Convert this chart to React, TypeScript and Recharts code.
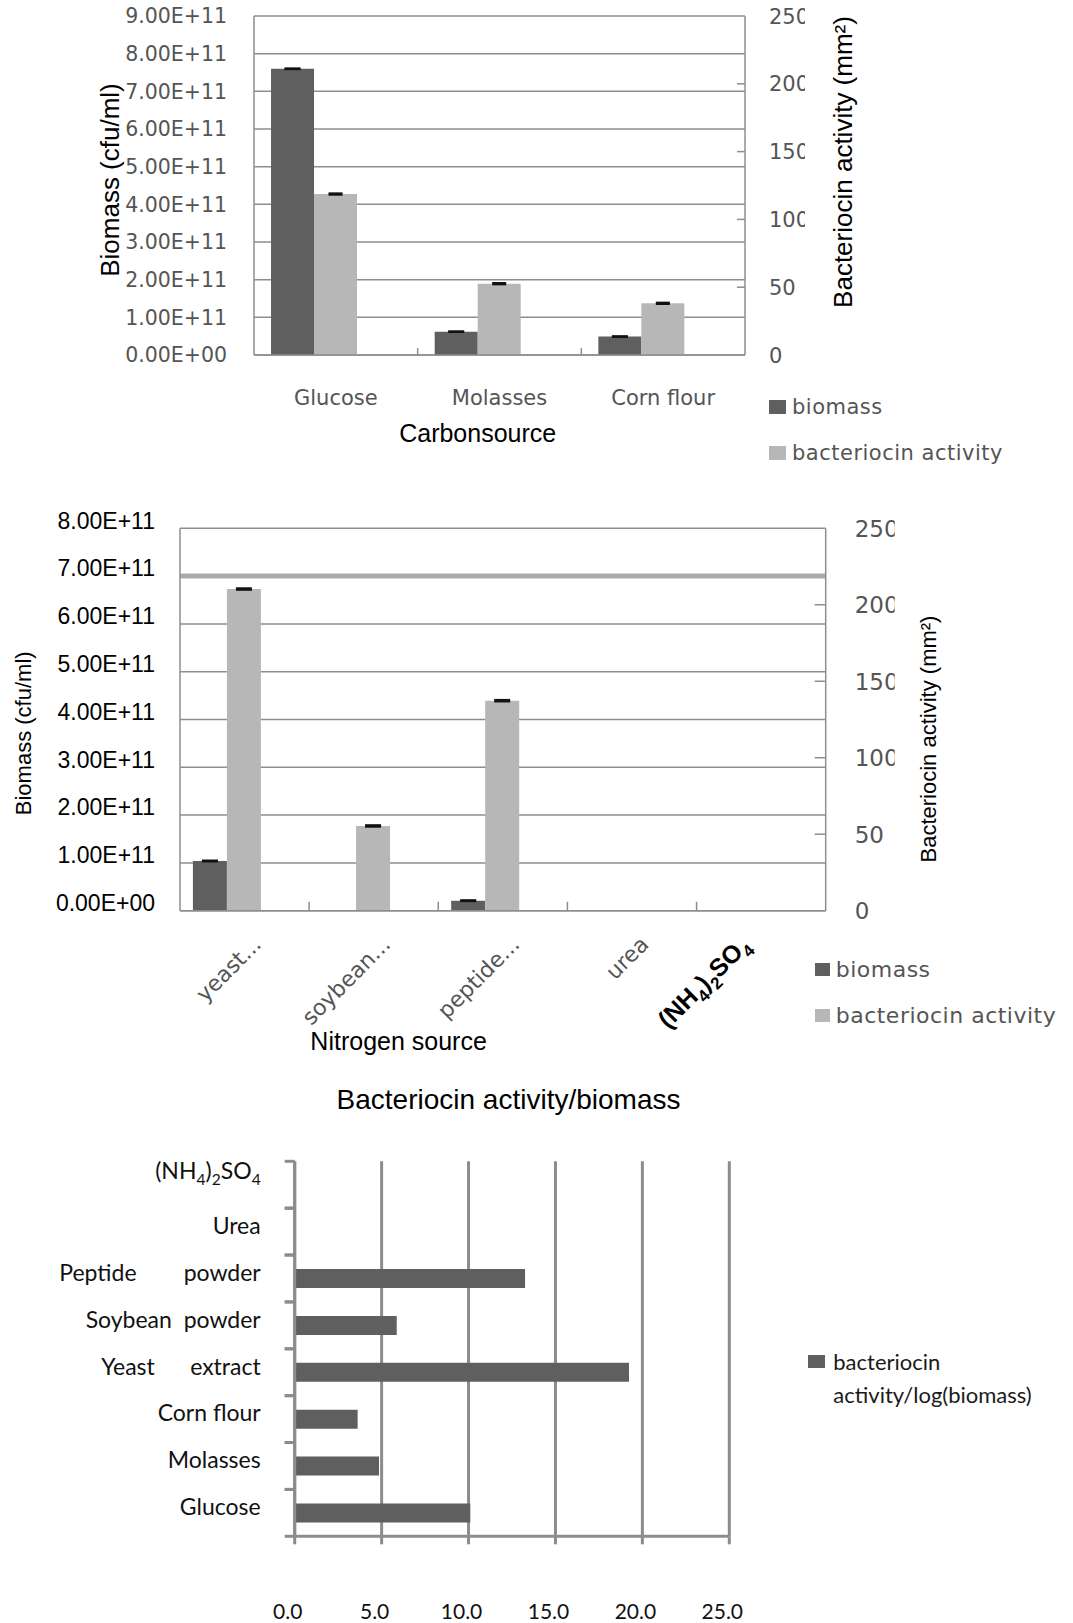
import React from 'react';
import { BarChart, Bar, XAxis, YAxis, CartesianGrid, ErrorBar, Legend, ReferenceLine } from 'recharts';

// carbon sources (top chart)
const carbonSources = ['Glucose', 'Molasses', 'Corn flour'];
const carbonBiomass = [7.6e11, 0.62e11, 0.49e11];
const carbonBiomassErr = [0.01e11, 0.01e11, 0.01e11];
const carbonActivity = [118.7, 52.6, 38.1];
const carbonActivityErr = [0.5, 0.5, 0.5];

// nitrogen sources (middle chart)
const nitrogenSources = ['yeast...', 'soybean...', 'peptide...', 'urea', '(NH4)2SO4'];
const nitrogenBiomass = [1.04e11, 0, 0.21e11, 0, 0];
const nitrogenBiomassErr = [0.01e11, null, 0.01e11, null, null];
const nitrogenActivity = [210.3, 55.4, 137.3, 0, 0];
const nitrogenActivityErr = [0.5, 0.5, 0.5, null, null];

// bacteriocin activity / log(biomass) (bottom chart)
const allSources = [
  'Glucose',
  'Molasses',
  'Corn flour',
  'Yeast      extract',
  'Soybean  powder',
  'Peptide        powder',
  'Urea',
  '(NH4)2SO4',
];
const activityPerBiomass = [10.1, 4.85, 3.62, 19.23, 5.87, 13.25, 0, 0];

const biomassTicksCarbon = [0, 1e11, 2e11, 3e11, 4e11, 5e11, 6e11, 7e11, 8e11, 9e11];
const biomassTicksNitrogen = [0, 1e11, 2e11, 3e11, 4e11, 5e11, 6e11, 7e11, 8e11];
const activityTicks = [0, 50, 100, 150, 200, 250];
const ratioTicks = [0, 5, 10, 15, 20, 25];

const DARK = '#5f5f5f';
const LIGHT = '#b7b7b7';
const GRID = '#8e8e8e';
const GRID3 = '#8c8c8c';
const TICK_GRAY = '#555';
const SEGOE = '"DejaVu Sans", sans-serif';
const ARIAL = '"Liberation Sans", Arial, sans-serif';
const LATO = 'Lato, sans-serif';

const W = 1073;
const C1_H = 480;
const C1_LEFT = 254;
const C1_RIGHT = 328;
const C1_BAND = (W - C1_LEFT - C1_RIGHT) / carbonSources.length;
const C2_H = 590;
const C2_LEFT = 180;
const C2_RIGHT = 247.3;
const C2_BAND = (W - C2_LEFT - C2_RIGHT) / nitrogenSources.length;
const C3_H = 553;
const C3_TOP = 91.3;
const C3_XH = 86.7;
const C3_BAND = (C3_H - C3_TOP - C3_XH) / allSources.length;

const carbonData = carbonSources.map((name, i) => ({
  name,
  biomass: carbonBiomass[i],
  biomassErr: carbonBiomassErr[i],
  activity: carbonActivity[i],
  activityErr: carbonActivityErr[i],
}));

const nitrogenData = nitrogenSources.map((name, i) => ({
  name,
  biomass: nitrogenBiomass[i],
  biomassErr: nitrogenBiomassErr[i],
  activity: nitrogenActivity[i],
  activityErr: nitrogenActivityErr[i],
}));

const ratioData = allSources.map((name, i) => ({ name, value: activityPerBiomass[i] }));

function sci(v: number) {
  if (v === 0) return '0.00E+00';
  const exp = Math.floor(Math.log10(v) + 1e-9);
  const mant = v / Math.pow(10, exp);
  return `${mant.toFixed(2)}E+${String(exp).padStart(2, '0')}`;
}

// digits in a formula become subscripts
function chemParts(label: string, fontSize: number) {
  const parts = label.split(/(\d+)/).filter((p) => p !== '');
  const shift = fontSize * 0.28;
  let down = false;
  return parts.map((p, i) => {
    const isSub = /^\d+$/.test(p);
    let dy = 0;
    if (isSub && !down) {
      dy = shift;
      down = true;
    } else if (!isSub && down) {
      dy = -shift;
      down = false;
    }
    return (
      <tspan key={i} dy={dy} fontSize={isSub ? fontSize * 0.68 : fontSize}>
        {p}
      </tspan>
    );
  });
}

function ValueTick(props: any) {
  const { x, y, payload, font, size, color, shift = 0, fmt } = props;
  return (
    <text x={x} y={y + shift} dy="0.36em" textAnchor="end" fontFamily={font} fontSize={size} fill={color}>
      {fmt ? fmt(payload.value) : payload.value}
    </text>
  );
}

function ActivityTick(props: any) {
  const { x, y, payload, gap, tickLen, size, clipX, id } = props;
  const axisX = x - gap;
  const cid = `${id}-${payload.value}`;
  const inner = payload.value > 0 && payload.value < 250;
  return (
    <g>
      <defs>
        <clipPath id={cid}>
          <rect x={0} y={y - 30} width={clipX} height={60} />
        </clipPath>
      </defs>
      {inner && <line x1={axisX - tickLen} x2={axisX} y1={y} y2={y} stroke={GRID} strokeWidth={1.5} />}
      <text
        x={x}
        y={y}
        dy="0.36em"
        textAnchor="start"
        fontFamily={SEGOE}
        fontSize={size}
        fill={TICK_GRAY}
        clipPath={`url(#${cid})`}
      >
        {payload.value}
      </text>
    </g>
  );
}

function CarbonTick(props: any) {
  const { x, y, payload, index } = props;
  const left = x - C1_BAND / 2;
  return (
    <g>
      {index > 0 && <line x1={left} x2={left} y1={y} y2={y - 7} stroke={GRID} strokeWidth={1.5} />}
      <text x={x} y={y + 42} dy="0.36em" textAnchor="middle" fontFamily={SEGOE} fontSize={21} fill={TICK_GRAY}>
        {payload.value}
      </text>
    </g>
  );
}

function NitrogenTick(props: any) {
  const { x, y, payload, index } = props;
  const left = x - C2_BAND / 2;
  const formula = /\d/.test(payload.value);
  // the formula label sits a little left of the others in the original
  const ax = formula ? x - 10 : x + 18;
  const ay = formula ? y + 36 : y + 35;
  const size = formula ? 25 : 22;
  return (
    <g>
      {index > 0 && <line x1={left} x2={left} y1={y} y2={y - 9} stroke={GRID} strokeWidth={1.5} />}
      <text
        x={ax}
        y={ay}
        textAnchor="end"
        transform={`rotate(-45 ${ax} ${ay})`}
        fontFamily={formula ? ARIAL : SEGOE}
        fontWeight={formula ? 700 : 400}
        fontSize={size}
        fill={formula ? '#000' : TICK_GRAY}
      >
        {formula ? chemParts(payload.value, size) : payload.value}
      </text>
    </g>
  );
}

function RatioCategoryTick(props: any) {
  const { x, y, payload } = props;
  const label = payload.value as string;
  return (
    <g>
      <line x1={x - 10} x2={x} y1={y - C3_BAND / 2} y2={y - C3_BAND / 2} stroke={GRID3} strokeWidth={3} />
      <line x1={x - 10} x2={x} y1={y + C3_BAND / 2} y2={y + C3_BAND / 2} stroke={GRID3} strokeWidth={3} />
      <text
        x={x - 34}
        y={y - 6}
        dy="0.36em"
        textAnchor="end"
        fontFamily={LATO}
        fontSize={23}
        fill="#111"
        xmlSpace="preserve"
        style={{ whiteSpace: 'pre' }}
      >
        {/\d/.test(label) ? chemParts(label, 23) : label}
      </text>
    </g>
  );
}

function RatioValueTick(props: any) {
  const { x, y, payload } = props;
  return (
    <text x={x - 7} y={y} dy="0.36em" textAnchor="middle" fontFamily={LATO} fontSize={21} fill="#111">
      {Number(payload.value).toFixed(1)}
    </text>
  );
}

function rotatedTitle(text: string, cx: number, cy: number, size: number) {
  return () => (
    <text
      x={cx}
      y={cy}
      transform={`rotate(-90 ${cx} ${cy})`}
      textAnchor="middle"
      dominantBaseline="central"
      fontFamily={ARIAL}
      fontSize={size}
      fill="#000"
    >
      {text}
    </text>
  );
}

function flatTitle(text: string, cx: number, cy: number, size: number) {
  return () => (
    <text x={cx} y={cy} textAnchor="middle" dominantBaseline="central" fontFamily={ARIAL} fontSize={size} fill="#000">
      {text}
    </text>
  );
}

function twoSeriesLegend(size: number, rowH: number, square: { w: number; h: number }) {
  const rows = [
    { label: 'biomass', color: DARK },
    { label: 'bacteriocin activity', color: LIGHT },
  ];
  return () => (
    <div style={{ fontFamily: SEGOE, fontSize: size, color: TICK_GRAY, whiteSpace: 'nowrap' }}>
      {rows.map((r) => (
        <div key={r.label} style={{ height: rowH, display: 'flex', alignItems: 'center' }}>
          <span style={{ display: 'inline-block', width: square.w, height: square.h, background: r.color, marginRight: 6 }} />
          <span style={{ letterSpacing: 0.5 }}>{r.label}</span>
        </div>
      ))}
    </div>
  );
}

function CarbonChart() {
  return (
    <BarChart
      width={W}
      height={C1_H}
      data={carbonData}
      margin={{ top: 16, right: 0, bottom: 0, left: 0 }}
      barGap={0}
      barCategoryGap="10.4%"
    >
      <CartesianGrid yAxisId="bio" vertical={false} stroke={GRID} strokeWidth={1.5} />
      <XAxis
        dataKey="name"
        height={C1_H - 355}
        interval={0}
        tickSize={0}
        tickMargin={0}
        tickLine={false}
        axisLine={{ stroke: GRID, strokeWidth: 1.5 }}
        tick={(p: any) => <CarbonTick {...p} />}
        label={{ content: flatTitle('Carbonsource', 477.7, 433, 25) }}
      />
      <YAxis
        yAxisId="bio"
        width={C1_LEFT}
        domain={[0, 9e11]}
        ticks={biomassTicksCarbon}
        interval={0}
        tickSize={0}
        tickMargin={27}
        tickLine={false}
        axisLine={{ stroke: GRID, strokeWidth: 1.5 }}
        tick={(p: any) => <ValueTick {...p} font={SEGOE} size={20.5} color={TICK_GRAY} fmt={sci} />}
        label={{ content: rotatedTitle('Biomass (cfu/ml)', 110, 180, 26) }}
      />
      <YAxis
        yAxisId="act"
        orientation="right"
        width={C1_RIGHT}
        domain={[0, 250]}
        ticks={activityTicks}
        interval={0}
        tickSize={0}
        tickMargin={24}
        tickLine={false}
        axisLine={{ stroke: GRID, strokeWidth: 1.5 }}
        tick={(p: any) => <ActivityTick {...p} gap={24} tickLen={8} size={21} clipX={805} id="c1r" />}
        label={{ content: rotatedTitle('Bacteriocin activity (mm²)', 843.4, 162, 26) }}
      />
      <Bar yAxisId="bio" dataKey="biomass" name="biomass" fill={DARK} isAnimationActive={false}>
        <ErrorBar dataKey="biomassErr" width={8} stroke="#111" strokeWidth={2} isAnimationActive={false} />
      </Bar>
      <Bar yAxisId="act" dataKey="activity" name="bacteriocin activity" fill={LIGHT} isAnimationActive={false}>
        <ErrorBar dataKey="activityErr" width={7} stroke="#111" strokeWidth={2} isAnimationActive={false} />
      </Bar>
      <Bar yAxisId="bio" dataKey="gap" fill="none" legendType="none" isAnimationActive={false} />
      <Legend
        layout="vertical"
        align="center"
        verticalAlign="middle"
        wrapperStyle={{ left: 769, top: 383.4, width: 300 }}
        content={twoSeriesLegend(21, 46.6, { w: 17, h: 14 })}
      />
    </BarChart>
  );
}

function NitrogenChart() {
  return (
    <BarChart
      width={W}
      height={C2_H}
      data={nitrogenData}
      margin={{ top: 48.3, right: 0, bottom: 0, left: 0 }}
      barGap={0}
      barCategoryGap="10%"
    >
      <CartesianGrid yAxisId="bio" vertical={false} stroke={GRID} strokeWidth={1.5} />
      <ReferenceLine yAxisId="bio" y={7e11} stroke="#ababab" strokeWidth={5} />
      <XAxis
        dataKey="name"
        height={C2_H - 430.7}
        interval={0}
        tickSize={0}
        tickMargin={0}
        tickLine={false}
        axisLine={{ stroke: GRID, strokeWidth: 1.5 }}
        tick={(p: any) => <NitrogenTick {...p} />}
        label={{ content: flatTitle('Nitrogen source', 398.6, 561, 25) }}
      />
      <YAxis
        yAxisId="bio"
        width={C2_LEFT}
        domain={[0, 8e11]}
        ticks={biomassTicksNitrogen}
        interval={0}
        tickSize={0}
        tickMargin={25}
        tickLine={false}
        axisLine={{ stroke: GRID, strokeWidth: 1.5 }}
        tick={(p: any) => <ValueTick {...p} font={ARIAL} size={23} color="#000" shift={-8} fmt={sci} />}
        label={{ content: rotatedTitle('Biomass (cfu/ml)', 23.7, 253.3, 22) }}
      />
      <YAxis
        yAxisId="act"
        orientation="right"
        width={C2_RIGHT}
        domain={[0, 250]}
        ticks={activityTicks}
        interval={0}
        tickSize={0}
        tickMargin={29}
        tickLine={false}
        axisLine={{ stroke: GRID, strokeWidth: 1.5 }}
        tick={(p: any) => <ActivityTick {...p} gap={29} tickLen={11} size={23} clipX={894.7} id="c2r" />}
        label={{ content: rotatedTitle('Bacteriocin activity (mm²)', 928, 259, 22) }}
      />
      <Bar yAxisId="bio" dataKey="biomass" name="biomass" fill={DARK} isAnimationActive={false}>
        <ErrorBar dataKey="biomassErr" width={8} stroke="#111" strokeWidth={2} isAnimationActive={false} />
      </Bar>
      <Bar yAxisId="act" dataKey="activity" name="bacteriocin activity" fill={LIGHT} isAnimationActive={false}>
        <ErrorBar dataKey="activityErr" width={8} stroke="#111" strokeWidth={2} isAnimationActive={false} />
      </Bar>
      <Bar yAxisId="bio" dataKey="gap" fill="none" legendType="none" isAnimationActive={false} />
      <Legend
        layout="vertical"
        align="center"
        verticalAlign="middle"
        wrapperStyle={{ left: 814.7, top: 466, width: 258 }}
        content={twoSeriesLegend(22, 46, { w: 15, h: 13 })}
      />
    </BarChart>
  );
}

function RatioChart() {
  return (
    <BarChart
      layout="vertical"
      width={W}
      height={C3_H}
      data={ratioData}
      margin={{ top: C3_TOP, right: 343.7, bottom: 0, left: 0 }}
      barCategoryGap="30%"
    >
      <CartesianGrid horizontal={false} stroke={GRID3} strokeWidth={3} />
      <XAxis
        type="number"
        domain={[0, 25]}
        ticks={ratioTicks}
        interval={0}
        height={C3_XH}
        tickSize={8}
        tickMargin={66.7}
        tickLine={{ stroke: GRID3, strokeWidth: 3 }}
        axisLine={{ stroke: GRID3, strokeWidth: 3 }}
        tick={(p: any) => <RatioValueTick {...p} />}
      />
      <YAxis
        type="category"
        dataKey="name"
        reversed
        interval={0}
        width={294.7}
        tickSize={0}
        tickMargin={0}
        tickLine={false}
        axisLine={{ stroke: GRID3, strokeWidth: 3 }}
        tick={(p: any) => <RatioCategoryTick {...p} />}
      />
      <Bar dataKey="value" name="bacteriocin activity/log(biomass)" fill={DARK} isAnimationActive={false} />
      <Legend
        layout="vertical"
        align="center"
        verticalAlign="middle"
        wrapperStyle={{ left: 808.3, top: 275, width: 265 }}
        content={() => (
          <div style={{ position: 'relative', fontFamily: LATO, fontSize: 22, color: '#1a1a1a', lineHeight: '33.3px' }}>
            <span style={{ position: 'absolute', left: 0, top: 10, width: 17, height: 13, background: DARK }} />
            <div style={{ marginLeft: 25, whiteSpace: 'nowrap' }}>
              bacteriocin
              <br />
              activity/log(biomass)
            </div>
          </div>
        )}
      />
    </BarChart>
  );
}

export default function App() {
  return (
    <div style={{ position: 'absolute', left: 0, top: 0, width: W, height: 1623, background: '#fff', overflow: 'hidden' }}>
      <div style={{ position: 'absolute', left: 0, top: 0 }}>
        <CarbonChart />
      </div>
      <div style={{ position: 'absolute', left: 0, top: 480 }}>
        <NitrogenChart />
      </div>
      <div
        style={{
          position: 'absolute',
          left: 0,
          top: 1083,
          width: 1017,
          textAlign: 'center',
          fontFamily: ARIAL,
          fontSize: 28,
          lineHeight: '34px',
          color: '#000',
        }}
      >
        Bacteriocin activity/biomass
      </div>
      <div style={{ position: 'absolute', left: 0, top: 1070 }}>
        <RatioChart />
      </div>
    </div>
  );
}
